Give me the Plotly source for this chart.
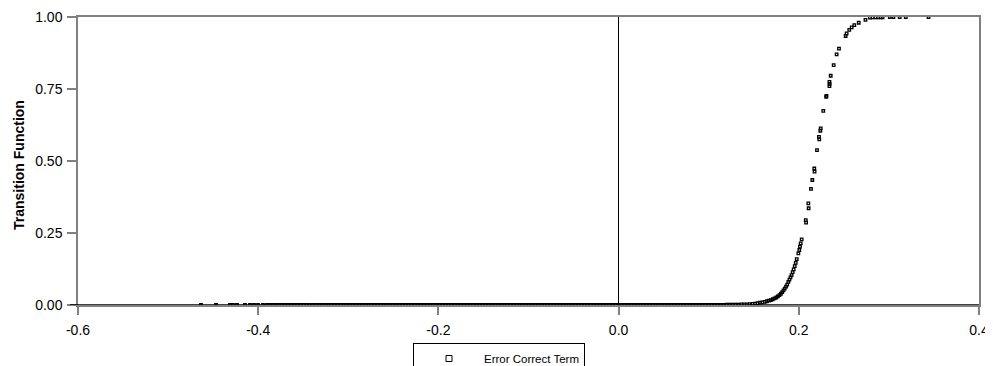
import plotly.graph_objects as go

# ---- data ----
flat_x = [
    -0.4635, -0.4468, -0.4313, -0.4280, -0.4235, -0.4147, -0.4091, -0.4047, -0.4002, -0.3947,
    -0.3902, -0.3869, -0.3836, -0.3801, -0.3772, -0.3738, -0.3701, -0.3669, -0.3633, -0.3598,
    -0.3566, -0.3530, -0.3497, -0.3462, -0.3429, -0.3391, -0.3360, -0.3325, -0.3292, -0.3257,
    -0.3223, -0.3189, -0.3154, -0.3121, -0.3087, -0.3050, -0.3018, -0.2983, -0.2949, -0.2914,
    -0.2881, -0.2846, -0.2812, -0.2777, -0.2744, -0.2709, -0.2675, -0.2641, -0.2606, -0.2572,
    -0.2538, -0.2503, -0.2470, -0.2435, -0.2401, -0.2366, -0.2333, -0.2298, -0.2264, -0.2230,
    -0.2195, -0.2161, -0.2127, -0.2092, -0.2058, -0.2024, -0.1989, -0.1955, -0.1921, -0.1887,
    -0.1852, -0.1818, -0.1784, -0.1749, -0.1715, -0.1681, -0.1646, -0.1612, -0.1578, -0.1544,
    -0.1509, -0.1475, -0.1441, -0.1406, -0.1372, -0.1338, -0.1303, -0.1269, -0.1235, -0.1201,
    -0.1166, -0.1132, -0.1098, -0.1063, -0.1029, -0.0995, -0.0960, -0.0926, -0.0892, -0.0858,
    -0.0823, -0.0789, -0.0755, -0.0720, -0.0686, -0.0652, -0.0617, -0.0583, -0.0549, -0.0515,
    -0.0480, -0.0446, -0.0412, -0.0377, -0.0343, -0.0309, -0.0274, -0.0240, -0.0206, -0.0172,
    -0.0137, -0.0103, -0.0069, -0.0034, 0.0001, 0.0035, 0.0069, 0.0104, 0.0138, 0.0172,
    0.0207, 0.0241, 0.0275, 0.0310, 0.0344, 0.0378, 0.0412, 0.0447, 0.0481, 0.0515,
    0.0550, 0.0584, 0.0618, 0.0652, 0.0687, 0.0721, 0.0755, 0.0790, 0.0824, 0.0858,
    0.0893, 0.0927, 0.0961, 0.0995, 0.1030, 0.1064, 0.1098, 0.1133, 0.1167,
]
flat_y = [0.0] * len(flat_x)

rise_x = [
    0.1200, 0.1233, 0.1265, 0.1298, 0.1330, 0.1362, 0.1394, 0.1425, 0.1456, 0.1486,
    0.1515, 0.1543, 0.1570, 0.1596, 0.1621, 0.1645, 0.1668, 0.1690, 0.1711, 0.1731,
    0.1750, 0.1768, 0.1785, 0.1801, 0.1816, 0.1830, 0.1844, 0.1858, 0.1871, 0.1884,
    0.1896, 0.1908, 0.1920, 0.1932, 0.1943, 0.1955, 0.1966, 0.1977, 0.1995, 0.2006,
    0.2013, 0.2021, 0.2032, 0.2077, 0.2081, 0.2106, 0.2109, 0.2135, 0.2150, 0.2172,
    0.2175, 0.2202, 0.2224, 0.2227, 0.2243, 0.2239, 0.2272, 0.2307, 0.2304, 0.2340,
    0.2342, 0.2340, 0.2354, 0.2387, 0.2420, 0.2446, 0.2520, 0.2531, 0.2560, 0.2587,
    0.2616, 0.2665, 0.2740, 0.2790, 0.2820, 0.2850, 0.2880, 0.2910, 0.2930, 0.3010,
    0.3050, 0.3120, 0.3187, 0.3440,
]
rise_y = [
    0.001, 0.001, 0.001, 0.0015, 0.0015, 0.002, 0.002, 0.0025, 0.003, 0.004,
    0.005, 0.006, 0.008, 0.009, 0.011, 0.013, 0.015, 0.017, 0.020, 0.023,
    0.026, 0.030, 0.034, 0.039, 0.045, 0.051, 0.057, 0.064, 0.071, 0.080,
    0.088, 0.096, 0.104, 0.114, 0.124, 0.135, 0.146, 0.159, 0.179, 0.191,
    0.203, 0.214, 0.228, 0.295, 0.286, 0.353, 0.336, 0.403, 0.434, 0.474,
    0.463, 0.538, 0.584, 0.575, 0.613, 0.605, 0.674, 0.726, 0.723, 0.775,
    0.768, 0.760, 0.796, 0.833, 0.870, 0.890, 0.934, 0.943, 0.955, 0.964,
    0.972, 0.980, 0.990, 0.998, 0.999, 0.999, 0.999, 0.999, 0.999, 1.000,
    1.000, 1.000, 1.000, 1.000,
]

series_name = "Error Correct Term"
y_title = "Transition Function"
x_tickvals = [-0.6, -0.4, -0.2, 0.0, 0.2, 0.4]
x_ticktext = ["-0.6", "-0.4", "-0.2", "0.0", "0.2", "0.4"]
y_tickvals = [0.0, 0.25, 0.5, 0.75, 1.0]
y_ticktext = ["0.00", "0.25", "0.50", "0.75", "1.00"]

FONT = "Liberation Sans, Arial, sans-serif"
GRAY = "#808080"

# page body has an 8px margin: figure placed at (8, 8)
OFF = 8
W, H = 993 - OFF, 366 - OFF
PL, PR, PT, PB = 78, 979, 17, 305  # plot area in window pixels
PW, PH = PR - PL, PB - PT

fig = go.Figure()
fig.add_trace(go.Scatter(
    x=flat_x + rise_x,
    y=flat_y + rise_y,
    mode="markers",
    name=series_name,
    showlegend=False,
    cliponaxis=False,
    marker=dict(symbol="square-open", size=2.5, color="black", line=dict(width=1.3, color="black")),
))
# legend entry (same series, larger key symbol as in the reference)
fig.add_trace(go.Scatter(
    x=[None], y=[None], mode="markers", name=series_name, showlegend=True,
    marker=dict(symbol="square-open", size=6, color="black", line=dict(width=1, color="black")),
))

fig.update_layout(
    width=W, height=H,
    margin=dict(l=PL - OFF, r=993 - PR, t=PT - OFF, b=366 - PB, autoexpand=False),
    plot_bgcolor="white", paper_bgcolor="white",
    font=dict(family=FONT, color="black", size=14),
    showlegend=True,
    legend=dict(
        x=(413 - PL) / PW, y=(PB - 343) / PH, xanchor="left", yanchor="top",
        bordercolor="black", borderwidth=1, bgcolor="white",
        font=dict(family=FONT, size=11.5, color="black"),
        itemwidth=60,
    ),
    xaxis=dict(
        range=[-0.6, 0.4], tickvals=x_tickvals, ticktext=x_ticktext,
        showgrid=False, zeroline=True, zerolinecolor="black", zerolinewidth=1,
        showline=True, linecolor=GRAY, linewidth=1.5, mirror=True,
        ticks="outside", ticklen=8, tickcolor=GRAY, tickwidth=1.5,
        ticklabelstandoff=3,
        tickfont=dict(family=FONT, size=14, color="black"),
    ),
    yaxis=dict(
        range=[0, 1], tickvals=y_tickvals, ticktext=y_ticktext,
        showgrid=False, zeroline=False,
        showline=True, linecolor=GRAY, linewidth=1.5, mirror=True,
        ticks="outside", ticklen=9, tickcolor=GRAY, tickwidth=1.5,
        ticklabelstandoff=2,
        tickfont=dict(family=FONT, size=14, color="black"),
    ),
    shapes=[dict(
        type="line", xref="paper", yref="y", x0=(70 - PL) / PW, x1=1, y0=0, y1=0,
        line=dict(color="black", width=1.5), layer="above",
    )],
    annotations=[dict(
        text="<b>" + y_title + "</b>", xref="paper", yref="paper",
        x=(19 - PL) / PW, y=(PB - 165) / PH, xanchor="center", yanchor="middle",
        textangle=-90, showarrow=False, font=dict(family=FONT, size=14, color="black"),
    )],
)

fig.write_html("out.html")
